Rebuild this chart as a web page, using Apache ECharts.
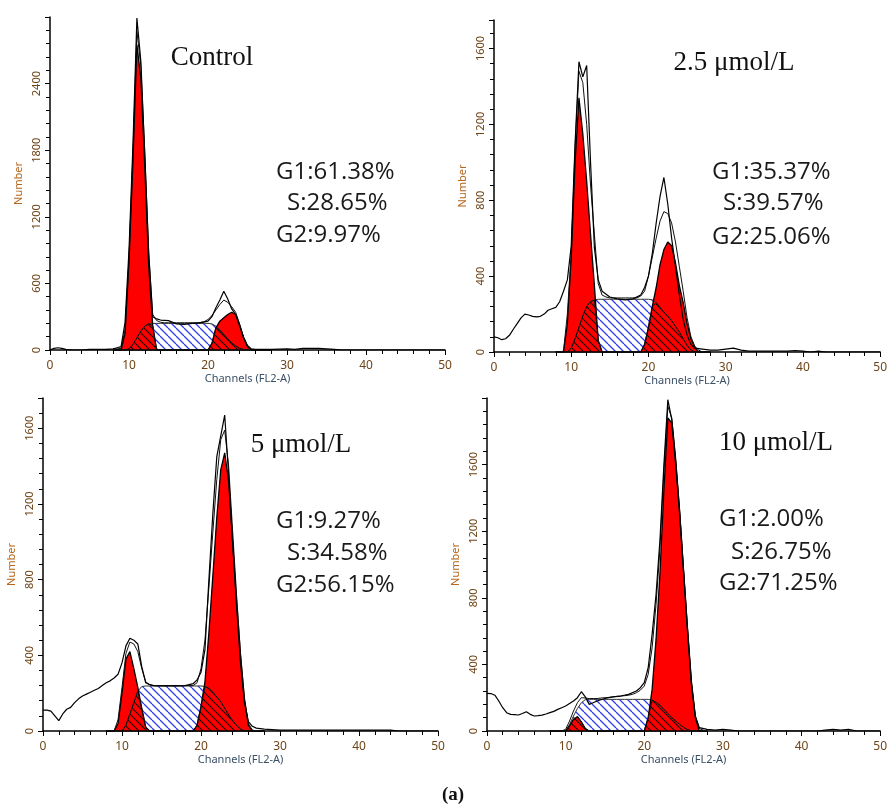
<!DOCTYPE html>
<html>
<head>
<meta charset="utf-8">
<script src="https://cdn.jsdelivr.net/npm/echarts@6/dist/echarts.min.js"></script>
<style>
html,body{margin:0;padding:0;background:#fff;}
#chart{width:890px;height:809px;}
</style>
</head>
<body>
<div id="chart"></div>
<script>
// ---------- DATA ----------
const panelTitles = ['Control', '2.5 \u03bcmol/L', '5 \u03bcmol/L', '10 \u03bcmol/L'];
const statG1 = ['G1:61.38%', 'G1:35.37%', 'G1:9.27%', 'G1:2.00%'];
const statS  = ['S:28.65%', 'S:39.57%', 'S:34.58%', 'S:26.75%'];
const statG2 = ['G2:9.97%', 'G2:25.06%', 'G2:56.15%', 'G2:71.25%'];
const xTicks = [0, 10, 20, 30, 40, 50];
const yMaxes = [3000, 1750, 1760, 2000];
const yIntervals = [600, 400, 400, 400];

// channels of the fitted model components
const modelCh = [8,8.5,9,9.5,10,10.5,11,11.5,12,12.5,13,13.5,14,14.5,15,15.5,16,16.5,17,17.5,
                 18,18.5,19,19.5,20,20.5,21,21.5,22,22.5,23,23.5,24,24.5,25,25.5,26,26.5,27,27.5,28];

// Panel 1 : Control
const p1_g1  = [0,0,0,150,800,1700,2750,2450,1650,750, 220,0,0,0,0,0,0,0,0,0, 0,0,0,0,0,0,0,0,0,0, 0,0,0,0,0,0,0,0,0,0, 0];
const p1_g2  = [0,0,0,0,0,0,0,0,0,0, 0,0,0,0,0,0,0,0,0,0, 0,0,0,0,0,60,200,260,290,320, 340,320,220,110,30,0,0,0,0,0, 0];
const p1_s   = [0,0,0,0,10,50,110,170,215,235, 240,240,240,240,240,240,240,240,240,240, 240,240,240,240,240,235,215,180,140,100, 65,35,15,5,0,0,0,0,0,0, 0];
const p1_fit = [10,10,15,180,820,1780,2870,2560,1780,880, 320,265,250,245,245,245,245,245,245,245, 245,245,248,255,275,310,360,410,450,430, 390,340,235,115,35,5,0,0,0,0, 0];
const p1_rawX = [0,0.5,1,1.5,2,3,4,5,6,7,8,8.5,9,9.5,10,10.5,11,11.5,12,12.5,13,13.5,14,15,16,17,18,19,20,20.5,21,21.5,22,22.5,23,23.5,24,24.5,25,25.5,26,27,28,30,31,32,33,34,35,36,37,40,45,50];
const p1_rawY = [0,15,20,15,5,0,0,5,5,5,10,20,30,250,900,1850,2990,2600,1750,850,300,280,270,265,235,230,240,245,260,300,380,450,530,460,370,320,225,115,40,10,5,5,5,10,5,15,15,15,10,5,0,0,0,0];

// Panel 2 : 2.5 umol/L
const p2_g1  = [0,0,0,150,500,1000,1340,1150,900,620, 350,60,0,0,0,0,0,0,0,0, 0,0,0,0,0,0,0,0,0,0, 0,0,0,0,0,0,0,0,0,0, 0];
const p2_g2  = [0,0,0,0,0,0,0,0,0,0, 0,0,0,0,0,0,0,0,0,0, 0,0,0,40,130,240,340,460,540,580, 560,470,350,260,150,70,25,0,0,0, 0];
const p2_s   = [0,0,0,0,20,70,130,190,240,265, 275,278,278,278,278,278,278,278,278,278, 278,278,278,278,278,275,260,235,210,190, 165,135,105,70,35,10,0,0,0,0, 0];
const p2_fit = [0,0,5,200,520,1080,1480,1420,1200,880, 620,360,300,290,285,285,285,285,285,285, 285,285,295,320,400,500,600,690,740,730, 680,580,450,320,180,80,30,10,0,0, 0];
const p2_rawX = [0,0.5,1,1.5,2,2.5,3,3.5,4,4.5,5,5.5,6,6.5,7,7.5,8,8.5,9,9.5,10,10.5,11,11.5,12,12.5,13,13.5,14,15,16,17,18,19,19.5,20,20.5,21,21.5,22,22.5,23,23.5,24,24.5,25,25.5,26,27,28,29,30,31,32,33,36,38,39,40,41,42,43,50];
const p2_rawY = [80,75,65,70,88,120,150,180,200,195,188,185,188,200,220,228,235,265,320,380,560,1100,1530,1450,1510,1000,550,380,320,290,280,275,280,300,340,400,520,680,820,920,780,600,450,300,170,90,40,20,15,10,10,15,20,10,5,5,5,8,5,0,5,0,0];

// Panel 3 : 5 umol/L
const p3_g1  = [0,0,0,40,200,380,420,330,230,120, 20,0,0,0,0,0,0,0,0,0, 0,0,0,0,0,0,0,0,0,0, 0,0,0,0,0,0,0,0,0,0, 0];
const p3_g2  = [0,0,0,0,0,0,0,0,0,0, 0,0,0,0,0,0,0,0,0,0, 0,0,0,30,130,260,520,820,1130,1380, 1470,1320,1000,690,400,170,30,0,0,0, 0];
const p3_s   = [0,0,0,0,0,30,90,150,210,235, 238,238,238,238,238,238,238,238,238,238, 238,238,238,238,238,235,225,205,180,155, 120,85,55,30,10,0,0,0,0,0, 0];
const p3_fit = [0,0,0,60,230,410,470,460,420,330, 260,245,240,240,240,240,240,240,240,240, 240,240,240,255,330,480,760,1050,1330,1540, 1590,1400,1060,720,410,170,40,5,0,0, 0];
const p3_rawX = [0,0.5,1,1.5,2,2.5,3,3.5,4,4.5,5,5.5,6,6.5,7,7.5,8,8.5,9,9.5,10,10.5,11,11.5,12,12.5,13,13.5,14,15,16,17,18,19,19.5,20,20.5,21,21.5,22,22.5,23,23.5,24,24.5,25,25.5,26,26.5,27,28,30,35,40,44,45,50];
const p3_rawY = [110,110,105,80,55,90,115,125,150,170,185,195,205,215,225,240,255,265,280,300,360,450,490,480,460,340,255,245,240,238,238,238,240,250,270,310,430,800,1150,1450,1560,1670,1350,1000,660,360,150,50,25,15,10,5,5,5,5,0,0];

// Panel 4 : 10 umol/L
const p4_g1  = [0,0,0,0,0,30,70,86,55,15, 0,0,0,0,0,0,0,0,0,0, 0,0,0,0,0,0,0,0,0,0, 0,0,0,0,0,0,0,0,0,0, 0];
const p4_g2  = [0,0,0,0,0,0,0,0,0,0, 0,0,0,0,0,0,0,0,0,0, 0,0,0,0,0,80,250,550,950,1450, 1880,1850,1600,1300,950,600,280,80,0,0, 0];
const p4_s   = [0,0,0,0,0,40,90,135,170,188, 190,190,190,190,190,190,190,190,190,190, 190,190,190,190,190,190,185,172,155,130, 105,80,60,40,22,8,0,0,0,0, 0];
const p4_fit = [0,0,0,0,10,60,120,170,200,198, 195,195,195,198,200,202,205,208,210,212, 215,220,230,245,270,340,500,760,1100,1560, 1950,1880,1640,1330,970,620,290,85,15,5, 0];
const p4_rawX = [0,0.5,1,1.5,2,2.5,3,3.5,4,4.5,5,5.5,6,6.5,7,7.5,8,8.5,9,9.5,10,10.5,11,11.5,12,12.5,13,13.5,14,15,16,17,18,19,19.5,20,20.5,21,21.5,22,22.5,23,23.5,24,24.5,25,25.5,26,26.5,27,28,29,30,31,32,42,43,44,45,46,47,50];
const p4_rawY = [226,225,215,180,140,110,100,98,96,105,116,100,90,92,95,102,110,118,130,140,150,165,180,200,236,205,160,170,180,195,205,210,220,240,260,290,380,580,820,1150,1600,1990,1870,1620,1320,970,620,300,90,20,10,5,10,5,0,0,5,10,5,10,0,0];

// ---------- BUILD ----------
const panels = [
  {g1:p1_g1, g2:p1_g2, s:p1_s, fit:p1_fit, rx:p1_rawX, ry:p1_rawY},
  {g1:p2_g1, g2:p2_g2, s:p2_s, fit:p2_fit, rx:p2_rawX, ry:p2_rawY},
  {g1:p3_g1, g2:p3_g2, s:p3_s, fit:p3_fit, rx:p3_rawX, ry:p3_rawY},
  {g1:p4_g1, g2:p4_g2, s:p4_s, fit:p4_fit, rx:p4_rawX, ry:p4_rawY}
];
const grids = [
  {left:50, top:17, width:395, height:333},
  {left:494, top:20, width:396, height:332},
  {left:43, top:398, width:395, height:333},
  {left:487, top:398, width:395, height:333}
];

function hatch(bg, fg, size, lw) {
  const c = document.createElement('canvas');
  c.width = size; c.height = size;
  const g = c.getContext('2d');
  if (bg) { g.fillStyle = bg; g.fillRect(0, 0, size, size); }
  g.strokeStyle = fg; g.lineWidth = lw;
  g.beginPath();
  for (let k = -1; k <= 1; k++) { g.moveTo(0, k * size); g.lineTo(size, k * size + size); }
  g.stroke();
  return c;
}
const bluePat = {image: hatch('#ffffff', '#2f3cf0', 8, 1.3), repeat: 'repeat'};
const blackPat = {image: hatch(null, '#1a0000', 8, 1.2), repeat: 'repeat'};

const zip = (xs, ys) => xs.map((x, i) => [x, ys[i]]);
const tickColor = '#6e4518';
const font = 'Noto Sans';

const xAxes = [], yAxes = [], series = [];
grids.forEach((gr, i) => {
  xAxes.push({
    type: 'value', gridIndex: i, min: 0, max: 50, interval: 10,
    axisLine: {show: true, onZero: false, lineStyle: {color: '#000', width: 1.5}},
    axisTick: {show: true, length: 5, lineStyle: {color: '#000', width: 1}},
    minorTick: {show: true, splitNumber: 5, length: 4, lineStyle: {color: '#000', width: 1}},
    splitLine: {show: false}, minorSplitLine: {show: false},
    axisLabel: {color: tickColor, fontSize: 12, fontFamily: font, margin: 10,
      formatter: v => (xTicks.indexOf(v) >= 0 ? String(v) : '')},
    name: 'Channels (FL2-A)', nameLocation: 'middle', nameGap: 21,
    nameTextStyle: {color: '#3a4f66', fontSize: 11, fontFamily: font}
  });
  yAxes.push({
    type: 'value', gridIndex: i, min: 0, max: yMaxes[i], interval: yIntervals[i],
    axisLine: {show: true, onZero: false, lineStyle: {color: '#000', width: 1.5}},
    axisTick: {show: true, length: 5, lineStyle: {color: '#000', width: 1}},
    minorTick: {show: true, splitNumber: 5, length: 4, lineStyle: {color: '#000', width: 1}},
    splitLine: {show: false}, minorSplitLine: {show: false},
    axisLabel: {color: tickColor, fontSize: 11, fontFamily: font, rotate: 90, margin: 8,
      formatter: v => (v % yIntervals[i] === 0 && v < yMaxes[i] ? String(v) : '')},
    name: 'Number', nameLocation: 'middle', nameRotate: 90, nameGap: 26,
    nameTextStyle: {color: '#b5651d', fontSize: 11, fontFamily: font}
  });
  const p = panels[i];
  const base = {type: 'line', xAxisIndex: i, yAxisIndex: i, symbol: 'none', showSymbol: false,
                silent: true, animation: false};
  // S phase (blue hatch on white)
  series.push(Object.assign({}, base, {
    data: zip(modelCh, p.s),
    lineStyle: {color: '#333', width: 1},
    areaStyle: {color: bluePat, opacity: 1}
  }));
  // G1 and G2 (red)
  series.push(Object.assign({}, base, {
    data: zip(modelCh, p.g1),
    lineStyle: {color: '#000', width: 1.3},
    areaStyle: {color: '#ff0000', opacity: 1}
  }));
  series.push(Object.assign({}, base, {
    data: zip(modelCh, p.g2),
    lineStyle: {color: '#000', width: 1.3},
    areaStyle: {color: '#ff0000', opacity: 1}
  }));
  // S overlapping G1/G2 (black hatch on red)
  series.push(Object.assign({}, base, {
    data: modelCh.map((c, k) => [c, Math.min(p.s[k], Math.max(p.g1[k], p.g2[k]))]),
    lineStyle: {color: '#111', width: 1},
    areaStyle: {color: blackPat, opacity: 1}
  }));
  // model fit line
  series.push(Object.assign({}, base, {
    data: zip(modelCh, p.fit),
    lineStyle: {color: '#111', width: 1}
  }));
  // raw histogram
  series.push(Object.assign({}, base, {
    data: zip(p.rx, p.ry),
    lineStyle: {color: '#000', width: 1.2}
  }));
});

const titlePos = [[212, 58], [734, 63], [301, 445], [776, 443]];
const statPos = [
  [[276,172],[287,203],[276,235]],
  [[712,172],[723,203],[712,237]],
  [[276,521],[287,553],[276,585]],
  [[719,519],[731,552],[719,583]]
];
const graphics = [];
for (let i = 0; i < 4; i++) {
  graphics.push({type: 'text', left: null, x: titlePos[i][0], y: titlePos[i][1], z: 100,
    style: {text: panelTitles[i], font: '27px "Liberation Serif", "Times New Roman", serif',
      fill: '#111', align: 'center', verticalAlign: 'middle'}});
  const st = [statG1[i], statS[i], statG2[i]];
  st.forEach((t, k) => graphics.push({type: 'text', x: statPos[i][k][0], y: statPos[i][k][1], z: 100,
    style: {text: t, font: '24px "Open Sans", "Noto Sans", sans-serif', fill: '#1a1a1a',
      align: 'left', verticalAlign: 'middle'}}));
}
graphics.push({type: 'text', x: 453, y: 795, z: 100,
  style: {text: '(a)', font: 'bold 19px "Liberation Serif", serif', fill: '#111',
    align: 'center', verticalAlign: 'middle'}});

const chart = echarts.init(document.getElementById('chart'), null, {renderer: 'canvas'});
chart.setOption({
  backgroundColor: '#ffffff',
  animation: false,
  grid: grids.map(g => Object.assign({containLabel: false}, g)),
  xAxis: xAxes,
  yAxis: yAxes,
  series: series,
  graphic: graphics
});
</script>
</body>
</html>
